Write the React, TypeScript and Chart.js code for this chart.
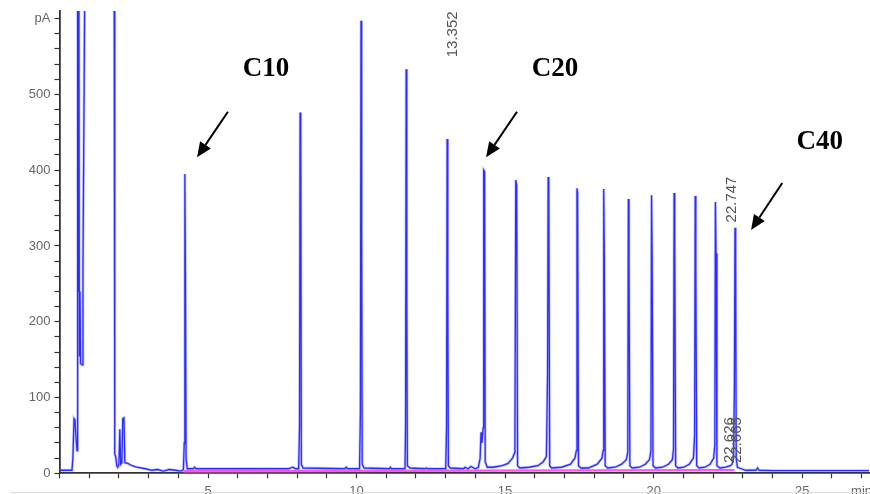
import React, { useEffect, useRef } from 'react';
import { Chart, registerables } from 'chart.js';

Chart.register(...registerables);

// Chromatogram trace: retention time (min) and detector signal (pA)
const retentionTime = [
  0.0, 0.42, 0.45, 0.49, 0.52, 0.56, 0.59, 0.61, 0.63, 0.65, 0.67, 0.69, 0.71, 0.76, 0.79, 0.86,
  1.84, 1.86, 1.89, 1.93, 1.96, 2.0, 2.03, 2.06, 2.1, 2.13, 2.17, 2.2, 2.3, 2.45, 2.6, 2.9, 3.1, 3.3, 3.5, 3.7, 3.9, 4.1,
  4.17, 4.2, 4.22, 4.24, 4.26, 4.3, 4.5, 4.55, 4.6, 5.5, 7.7, 7.85, 7.95,
  8.05, 8.08, 8.1, 8.12, 8.14, 8.2, 9.6, 9.65, 9.7,
  10.1, 10.13, 10.15, 10.17, 10.19, 10.25, 11.1, 11.14, 11.18,
  11.63, 11.65, 11.67, 11.69, 11.71, 11.8, 12.3, 12.35, 12.4,
  13.0, 13.03, 13.05, 13.07, 13.09, 13.15, 13.6, 13.65, 13.75, 13.85, 14.0, 14.1,
  14.16, 14.19, 14.22, 14.26, 14.28, 14.31, 14.33, 14.4, 14.6, 14.9, 15.1, 15.25, 15.33,
  15.36, 15.39, 15.42, 15.5, 15.8, 16.1, 16.28, 16.39, 16.43,
  16.45, 16.47, 16.5, 16.57, 16.9, 17.2, 17.35, 17.4,
  17.42, 17.44, 17.47, 17.55, 17.8, 18.1, 18.26, 18.3,
  18.32, 18.34, 18.37, 18.45, 18.7, 18.92, 19.08, 19.13,
  19.15, 19.17, 19.2, 19.28, 19.52, 19.72, 19.86, 19.91,
  19.93, 19.95, 19.98, 20.06, 20.3, 20.5, 20.63, 20.67,
  20.69, 20.71, 20.74, 20.82, 21.02, 21.2, 21.34, 21.38,
  21.4, 21.42, 21.45, 21.53, 21.73, 21.9, 22.02, 22.06,
  22.08, 22.1, 22.13, 22.23, 22.42, 22.58, 22.64, 22.69, 22.72,
  22.74, 22.76, 22.78, 22.82, 22.95, 23.1, 23.45, 23.5, 23.55, 24.0, 27.25,
];

const signalPA = [
  4, 4, 20, 72, 70, 45, 30, 700, 240, 700, 155, 240, 145, 143, 270, 700,
  700, 25, 22, 10, 8, 12, 58, 12, 14, 72, 73, 14, 13, 10, 8, 6, 4, 5, 3, 5, 4, 3,
  5, 40, 395, 260, 20, 6, 6, 8, 6, 6, 6, 8, 6,
  6, 60, 476, 446, 12, 7, 6, 8, 6,
  6, 80, 597, 327, 12, 7, 6, 8, 6,
  6, 60, 533, 231, 10, 7, 6, 7, 6,
  6, 60, 441, 245, 10, 7, 6, 8, 6, 9, 6, 8,
  20, 54, 40, 60, 400, 398, 15, 8, 8, 10, 13, 20, 28,
  387, 380, 10, 7, 8, 10, 15, 22, 130,
  391, 380, 10, 7, 8, 12, 20, 30,
  376, 370, 10, 7, 7, 12, 20, 30,
  375, 288, 10, 7, 8, 12, 18, 28,
  362, 279, 10, 7, 8, 12, 18, 30,
  367, 284, 10, 7, 8, 12, 18, 32,
  370, 300, 10, 7, 8, 12, 20, 50,
  366, 274, 10, 7, 8, 12, 20, 37,
  358, 290, 10, 7, 8, 10, 12, 20, 115,
  324, 290, 20, 8, 6, 4, 4, 7, 4, 3.5, 3.5,
];

// Integration baseline (pink)
const baselineTime = [4.17, 22.72];
const baselinePA = [2.8, 4.2];

// Axis labels
const yLabelValues = [0, 100, 200, 300, 400, 500];
const yUnitValue = 600;
const yUnitLabel = 'pA';
const xLabelValues = [5, 10, 15, 20, 25];
const xUnitValue = 27;
const xUnitLabel = 'min';

// Retention-time labels printed on peaks
const peakLabelText = ['13.352', '22.747', '22.626', '22.665'];
const peakLabelTime = [13.352, 22.747, 22.626, 22.665];
const peakLabelAnchorPA = [549, 331, 13.6, 13.6];

// Carbon-number annotations
const carbonLabels = ['C10', 'C20', 'C40'];

// Annotation placement (data coordinates) - styling/position config
const carbonLabelPos = [
  { t: 6.95, v: 524 },
  { t: 16.68, v: 524 },
  { t: 25.59, v: 428 },
];
const carbonArrowPos = [
  { t0: 5.67, v0: 477, t1: 4.63, v1: 417 },
  { t0: 15.4, v0: 477, t1: 14.36, v1: 417 },
  { t0: 24.33, v0: 383, t1: 23.28, v1: 321 },
];
const peakLabelDx = [-3, -3, -1.5, 4.3];

const overlayPlugin = {
  id: 'overlay',
  afterDatasetsDraw(chart: any) {
    const { ctx } = chart;
    const x = chart.scales.x;
    const y = chart.scales.y;
    ctx.save();

    // rotated peak labels
    ctx.fillStyle = '#555';
    ctx.font = '15px "Liberation Sans", Arial, sans-serif';
    ctx.textAlign = 'left';
    ctx.textBaseline = 'middle';
    peakLabelText.forEach((txt, i) => {
      const px = x.getPixelForValue(peakLabelTime[i]) + peakLabelDx[i];
      const py = y.getPixelForValue(peakLabelAnchorPA[i]);
      ctx.save();
      ctx.translate(px, py);
      ctx.rotate(-Math.PI / 2);
      ctx.fillText(txt, 0, 0);
      ctx.restore();
    });

    // carbon labels
    ctx.fillStyle = '#000';
    ctx.font = 'bold 27px "Liberation Serif", "Times New Roman", serif';
    ctx.textAlign = 'center';
    ctx.textBaseline = 'alphabetic';
    carbonLabels.forEach((txt, i) => {
      ctx.fillText(txt, x.getPixelForValue(carbonLabelPos[i].t), y.getPixelForValue(carbonLabelPos[i].v));
    });

    // arrows
    ctx.strokeStyle = '#000';
    ctx.lineWidth = 2;
    carbonArrowPos.forEach((a) => {
      const x0 = x.getPixelForValue(a.t0);
      const y0 = y.getPixelForValue(a.v0);
      const x1 = x.getPixelForValue(a.t1);
      const y1 = y.getPixelForValue(a.v1);
      const ang = Math.atan2(y1 - y0, x1 - x0);
      const headLen = 15;
      const headHalf = 6.5;
      const bx = x1 - Math.cos(ang) * headLen;
      const by = y1 - Math.sin(ang) * headLen;
      ctx.beginPath();
      ctx.moveTo(x0, y0);
      ctx.lineTo(bx, by);
      ctx.stroke();
      ctx.beginPath();
      ctx.moveTo(x1, y1);
      ctx.lineTo(bx - Math.sin(ang) * headHalf, by + Math.cos(ang) * headHalf);
      ctx.lineTo(bx + Math.sin(ang) * headHalf, by - Math.cos(ang) * headHalf);
      ctx.closePath();
      ctx.fill();
    });

    // faint frame line at the bottom of the picture
    ctx.strokeStyle = '#dcdcdc';
    ctx.lineWidth = 1;
    ctx.beginPath();
    ctx.moveTo(10, 492.5);
    ctx.lineTo(870, 492.5);
    ctx.stroke();

    ctx.restore();
  },
};

export default function App() {
  const canvasRef = useRef<HTMLCanvasElement | null>(null);

  useEffect(() => {
    const canvas = canvasRef.current;
    if (!canvas) return;
    const trace = retentionTime.map((t, i) => ({ x: t, y: signalPA[i] }));
    const baseline = baselineTime.map((t, i) => ({ x: t, y: baselinePA[i] }));
    const tickFont = { family: '"Liberation Sans", Arial, sans-serif', size: 13 };

    const chart = new Chart(canvas, {
      type: 'scatter',
      data: {
        datasets: [
          {
            data: baseline,
            showLine: true,
            borderColor: 'rgb(255,85,235)',
            borderWidth: 2.4,
            pointRadius: 0,
            order: 0,
          },
          {
            data: trace,
            showLine: true,
            borderColor: 'rgb(45,45,255)',
            borderWidth: 1.3,
            pointRadius: 0,
            order: 1,
          },
          {
            data: trace,
            showLine: true,
            borderColor: 'rgba(120,120,255,0.45)',
            borderWidth: 2.8,
            pointRadius: 0,
            order: 2,
          },
        ],
      },
      options: {
        animation: false,
        responsive: false,
        events: [],
        layout: { padding: { top: 11, right: 1, left: 0, bottom: 0 } },
        plugins: { legend: { display: false }, tooltip: { enabled: false } },
        scales: {
          x: {
            type: 'linear',
            min: 0,
            max: 27.25,
            afterFit: (s: any) => {
              s.height = 20.7;
              s.paddingLeft = 0;
              s.paddingRight = 0;
            },
            afterBuildTicks: (s: any) => {
              s.ticks = Array.from({ length: 28 }, (_, i) => ({ value: i }));
            },
            ticks: {
              autoSkip: false,
              maxRotation: 0,
              minRotation: 0,
              padding: 5,
              color: '#666',
              font: tickFont,
              callback: (v: any) => {
                const n = Number(v);
                if (n === xUnitValue) return xUnitLabel;
                return xLabelValues.includes(n) ? String(n) : '';
              },
            },
            grid: {
              drawOnChartArea: false,
              drawTicks: true,
              tickLength: 5,
              tickColor: '#333',
              tickWidth: 1.2,
            },
            border: { display: true, color: '#333', width: 1.8 },
          },
          y: {
            type: 'linear',
            min: 0,
            max: 610,
            afterFit: (s: any) => {
              s.width = 59.5;
              s.paddingTop = 0;
              s.paddingBottom = 0;
            },
            afterBuildTicks: (s: any) => {
              s.ticks = Array.from({ length: 31 }, (_, i) => ({ value: i * 20 }));
            },
            ticks: {
              autoSkip: false,
              padding: 4,
              color: '#666',
              font: tickFont,
              callback: (v: any) => {
                const n = Number(v);
                if (n === yUnitValue) return yUnitLabel;
                return yLabelValues.includes(n) ? String(n) : '';
              },
            },
            grid: {
              drawOnChartArea: false,
              drawTicks: true,
              tickLength: 5,
              tickColor: '#333',
              tickWidth: 1.2,
            },
            border: { display: true, color: '#333', width: 1.8 },
          },
        },
      },
      plugins: [overlayPlugin],
    } as any);

    return () => {
      chart.destroy();
    };
  }, []);

  return (
    <div style={{ position: 'absolute', left: 0, top: 0, width: 870, height: 494, background: '#fff' }}>
      <canvas ref={canvasRef} width={870} height={494} style={{ display: 'block' }} />
    </div>
  );
}
